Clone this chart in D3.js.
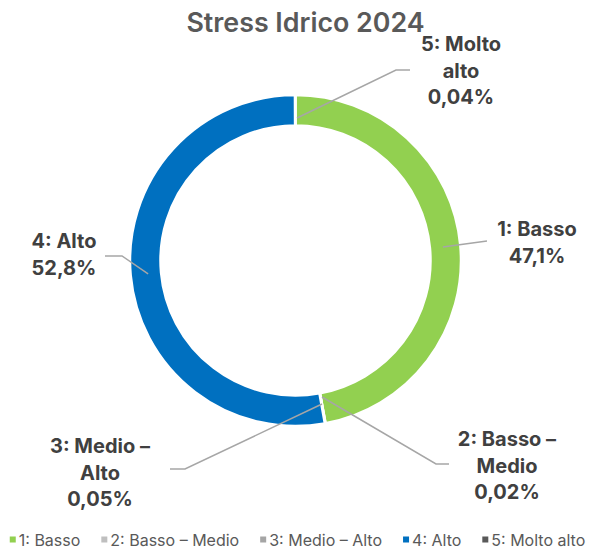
<!DOCTYPE html>
<html><head><meta charset="utf-8">
<script src="https://cdn.jsdelivr.net/npm/d3@7"></script>
<style>body{margin:0;background:#fff;} svg{display:block;}</style>
</head><body>
<svg id="chart" width="595" height="548"></svg>
<script>
const categories = ["1: Basso", "2: Basso – Medio", "3: Medio – Alto", "4: Alto", "5: Molto alto"];
const values = [47.1, 0.02, 0.05, 52.8, 0.04];
const valueLabels = ["47,1%", "0,02%", "0,05%", "52,8%", "0,04%"];
const labelLines = [["1: Basso"], ["2: Basso –", "Medio"], ["3: Medio –", "Alto"], ["4: Alto"], ["5: Molto", "alto"]];
const colors = ["#92D050", "#BFBFBF", "#A5A5A5", "#0070C0", "#595959"];

// layout (not data)
const W = 595, H = 548, cx = 295.5, cy = 260.5, rOut = 165.5, rIn = 135;
const font = "Inter, 'DejaVu Sans', sans-serif";
const labelLayout = [
  {x: 537, y: 230, elbow: [487, 241], end: [487, 241], start: [441, 244]},
  {x: 507, y: 440, elbow: [436, 464], end: [449, 464], start: [322, 397]},
  {x: 100, y: 447, elbow: [185, 469], end: [170, 469], start: [322, 404]},
  {x: 64,  y: 242, elbow: [122, 256], end: [105, 256], start: [150, 273]},
  {x: 461, y: 45,  elbow: [396, 70],  end: [410, 70],  start: [297, 118]}
];

const svg = d3.select("#chart");
svg.append("text").attr("x", 305.5).attr("y", 32).attr("text-anchor", "middle")
  .attr("font-family", font).attr("font-weight", 600).attr("font-size", 26.8)
  .attr("fill", "#595959").text("Stress Idrico 2024");

const pie = d3.pie().sort(null).value(d => d)(values);
const arc = d3.arc().innerRadius(rIn).outerRadius(rOut);
const g = svg.append("g").attr("transform", `translate(${cx},${cy})`);
g.selectAll("path").data(pie).join("path")
  .attr("d", arc).attr("fill", (d, i) => colors[i])
  .attr("stroke", "#fff").attr("stroke-width", 2.5);

// leader lines: start on the ring at the slice's angle
const midR = 148;
pie.forEach((d, i) => {
  const L = labelLayout[i];
  const a = (d.startAngle + d.endAngle) / 2;
  let sx = cx + midR * Math.sin(a), sy = cy - midR * Math.cos(a);
  if (i === 1 || i === 2 || i === 4) { sx = L.start[0]; sy = L.start[1]; }
  const pts = [[sx, sy], L.elbow, L.end];
  svg.append("path").attr("d", d3.line()(pts)).attr("fill", "none")
    .attr("stroke", "#A6A6A6").attr("stroke-width", 1.5);
  const t = svg.append("text").attr("text-anchor", "middle")
    .attr("font-family", font).attr("font-weight", 700).attr("font-size", 20)
    .attr("fill", "#404040");
  const lines = labelLines[i].concat([valueLabels[i]]);
  lines.forEach((ln, k) => {
    t.append("tspan").attr("x", L.x).attr("y", L.y + k * 26.5 + 6).text(ln);
  });
});

// legend
const leg = svg.append("g");
let x = 0;
categories.forEach((c, i) => {
  const it = leg.append("g");
  it.append("rect").attr("x", x).attr("y", -3.5).attr("width", 6).attr("height", 6).attr("fill", colors[i]);
  const tx = it.append("text").attr("x", x + 9).attr("y", 5.5).attr("font-family", font)
    .attr("font-size", 16).attr("fill", "#595959").text(c);
  const w = tx.node().getComputedTextLength();
  x += 9 + w + 21;
});
const totalW = x - 21;
leg.attr("transform", `translate(${(W - totalW) / 2},540)`);
</script>
</body></html>
